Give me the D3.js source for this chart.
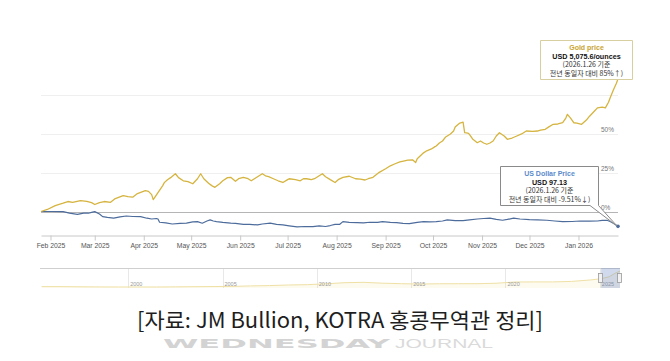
<!DOCTYPE html>
<html><head><meta charset="utf-8">
<script src="https://cdn.jsdelivr.net/npm/d3@7"></script>
<style>body{margin:0;background:#fff;} svg{display:block;}</style>
</head><body>
<svg id="c" width="670" height="361"></svg>
<script>
// ---------- DATA ----------
const goldDates = ["2025-01-26","2025-01-30","2025-02-04","2025-02-09","2025-02-12","2025-02-15","2025-02-20","2025-02-24","2025-02-27","2025-03-01","2025-03-04","2025-03-07","2025-03-11","2025-03-14","2025-03-19","2025-03-22","2025-03-25","2025-03-28","2025-04-02","2025-04-04","2025-04-06","2025-04-07","2025-04-10","2025-04-13","2025-04-14","2025-04-16","2025-04-18","2025-04-21","2025-04-23","2025-04-26","2025-04-29","2025-05-02","2025-05-05","2025-05-07","2025-05-09","2025-05-12","2025-05-14","2025-05-16","2025-05-19","2025-05-21","2025-05-24","2025-05-26","2025-05-29","2025-05-31","2025-06-03","2025-06-06","2025-06-08","2025-06-12","2025-06-15","2025-06-17","2025-06-19","2025-06-22","2025-06-25","2025-06-28","2025-07-01","2025-07-02","2025-07-06","2025-07-09","2025-07-11","2025-07-13","2025-07-16","2025-07-18","2025-07-20","2025-07-23","2025-07-25","2025-07-28","2025-07-31","2025-08-02","2025-08-05","2025-08-09","2025-08-13","2025-08-16","2025-08-19","2025-08-21","2025-08-24","2025-08-26","2025-08-28","2025-09-01","2025-09-04","2025-09-07","2025-09-10","2025-09-13","2025-09-15","2025-09-18","2025-09-20","2025-09-21","2025-09-23","2025-09-25","2025-09-27","2025-09-30","2025-10-02","2025-10-03","2025-10-05","2025-10-07","2025-10-09","2025-10-12","2025-10-14","2025-10-15","2025-10-17","2025-10-18","2025-10-20","2025-10-21","2025-10-23","2025-10-24","2025-10-26","2025-10-29","2025-10-31","2025-11-02","2025-11-04","2025-11-06","2025-11-08","2025-11-10","2025-11-12","2025-11-15","2025-11-17","2025-11-20","2025-11-23","2025-11-26","2025-11-29","2025-12-03","2025-12-06","2025-12-08","2025-12-11","2025-12-13","2025-12-16","2025-12-19","2025-12-22","2025-12-24","2025-12-25","2025-12-27","2025-12-29","2025-12-31","2026-01-03","2026-01-06","2026-01-08","2026-01-11","2026-01-13","2026-01-16","2026-01-18","2026-01-20","2026-01-21","2026-01-23","2026-01-25","2026-01-26"];
const goldPct = [0,1.3,3.8,5.3,6.4,5.9,7.0,6.5,5.7,4.5,5.7,6.4,5.9,8.3,10.2,9.6,9.2,11.5,13.4,12.9,10.8,7.6,12.1,16.6,18.5,20.4,21.7,24.2,21.7,19.7,19.1,17.8,21.0,24.2,21.0,18.1,16.6,15.5,17.8,19.7,21.7,21.9,19.4,21.0,21.9,21.0,19.7,22.3,24.2,22.9,22.3,21.0,19.7,18.6,20.4,21.0,20.4,19.7,21.0,21.0,20.4,21.0,22.3,24.2,22.3,20.4,18.6,20.4,21.9,22.6,21.0,20.7,20.2,21.0,21.9,23.6,25.1,27.4,29.3,30.6,31.8,32.5,32.9,33.1,31.4,33.8,35.7,37.6,38.9,40.1,41.4,42.0,43.9,45.2,47.8,49.7,51.6,54.1,55.9,56.7,57.3,50.5,50.3,49.5,46.5,44.1,45.2,43.9,43.1,43.9,45.2,48.4,50.5,48.4,46.3,47.1,48.4,49.7,51.6,51.3,51.6,52.2,52.7,54.1,55.9,56.1,56.9,59.9,62.3,59.9,56.9,56.7,55.9,58.6,61.1,64.3,66.4,66.9,66.4,70.0,72.8,77.7,82.2,85.0];

const usdDates = ["2025-01-26","2025-02-02","2025-02-09","2025-02-13","2025-02-18","2025-02-22","2025-02-25","2025-02-27","2025-03-01","2025-03-04","2025-03-06","2025-03-09","2025-03-13","2025-03-17","2025-03-21","2025-03-25","2025-03-30","2025-04-03","2025-04-06","2025-04-09","2025-04-10","2025-04-11","2025-04-15","2025-04-19","2025-04-24","2025-04-28","2025-05-02","2025-05-05","2025-05-08","2025-05-11","2025-05-13","2025-05-15","2025-05-17","2025-05-21","2025-05-26","2025-05-29","2025-06-03","2025-06-07","2025-06-12","2025-06-15","2025-06-20","2025-06-24","2025-06-28","2025-07-02","2025-07-07","2025-07-12","2025-07-17","2025-07-21","2025-07-25","2025-07-28","2025-07-31","2025-08-03","2025-08-05","2025-08-09","2025-08-14","2025-08-18","2025-08-22","2025-08-27","2025-08-30","2025-09-04","2025-09-08","2025-09-12","2025-09-16","2025-09-21","2025-09-25","2025-09-29","2025-10-03","2025-10-07","2025-10-10","2025-10-15","2025-10-20","2025-10-24","2025-10-29","2025-11-02","2025-11-06","2025-11-10","2025-11-14","2025-11-17","2025-11-21","2025-11-25","2025-12-01","2025-12-06","2025-12-12","2025-12-17","2025-12-22","2025-12-28","2026-01-02","2026-01-08","2026-01-13","2026-01-16","2026-01-19","2026-01-21","2026-01-23","2026-01-26"];
const usdPct = [0,0,-0.1,-1.0,-1.8,-1.0,-1.1,-0.6,-0.1,-1.6,-3.3,-3.8,-4.3,-3.5,-2.9,-3.2,-3.3,-4.3,-4.8,-4.5,-4.8,-6.9,-7.3,-8.0,-7.6,-7.5,-6.7,-6.5,-7.5,-6.1,-5.4,-6.1,-6.5,-7.0,-7.5,-7.6,-8.2,-8.3,-8.6,-8.0,-7.5,-8.3,-8.6,-9.2,-9.9,-9.6,-9.7,-9.2,-9.6,-9.0,-8.3,-8.2,-6.5,-7.0,-7.1,-7.3,-6.9,-7.0,-6.5,-7.0,-7.1,-7.6,-7.8,-7.0,-6.5,-6.7,-6.5,-6.1,-5.4,-5.9,-5.9,-5.4,-4.8,-4.5,-4.3,-5.1,-5.6,-5.1,-4.3,-4.8,-5.2,-5.4,-5.6,-6.1,-6.5,-6.4,-6.1,-6.2,-6.1,-5.7,-5.6,-6.4,-7.6,-9.51];

const monthTicks = ["2025-02-01","2025-03-01","2025-04-01","2025-05-01","2025-06-01","2025-07-01","2025-08-01","2025-09-01","2025-10-01","2025-11-01","2025-12-01","2026-01-01"];
const yTickLabels = [0, 25, 50];
const yGrid = [25, 50, 75];

const navDates = ["1995-06-01","1996-07-01","1997-07-01","1998-07-01","1999-07-01","2000-07-01","2001-07-01","2002-07-01","2003-07-01","2004-07-01","2005-07-01","2006-07-01","2007-07-01","2008-07-01","2009-07-01","2010-07-01","2011-07-01","2012-07-01","2013-07-01","2014-07-01","2015-07-01","2016-07-01","2017-07-01","2018-07-01","2019-07-01","2020-07-01","2021-07-01","2022-07-01","2023-07-01","2024-07-01","2025-01-26","2025-07-01","2025-10-20","2026-01-26"];
const navGold = [385,388,331,294,279,279,271,310,363,409,444,603,695,872,972,1224,1571,1669,1411,1266,1160,1250,1257,1268,1393,1770,1799,1800,1943,2386,2744,3350,4360,5075];
const navTickYears = ["2000","2005","2010","2015","2020","2025"];

const goldNote = ["Gold price", "USD 5,075.6/ounces", "(2026.1.26 기준", "전년 동일자 대비 85%↑)"];
const usdNote = ["US Dollar Price", "USD 97.13", "(2026.1.26 기준", "전년 동일자 대비 -9.51%↓)"];
const caption = "[자료: JM Bullion, KOTRA 홍콩무역관 정리]";
const watermark = ["WEDNESDAY", "JOURNAL"];

// ---------- DRAW ----------
const svg = d3.select("#c");
const parse = d3.timeParse("%Y-%m-%d");
const GOLD = "#d5b43f", BLUE = "#4d6c9c";
const FONT = "'Liberation Sans', Arial, sans-serif";
const KFONT = "'Noto Sans CJK KR', 'Noto Sans', sans-serif";

const x = d3.scaleTime().domain([parse("2025-01-26"), parse("2026-01-26")]).range([41, 618]);
const y = d3.scaleLinear().domain([0, 85]).range([211.5, 78.9]);
const cy = v => Math.round(y(v)) + 0.5;

// grid
svg.append("g").selectAll("line").data(yGrid).join("line")
  .attr("x1", 41).attr("x2", 618).attr("y1", cy).attr("y2", cy)
  .attr("stroke", "#efefef").attr("stroke-width", 1);
svg.append("line").attr("x1", 41).attr("x2", 618).attr("y1", cy(0)).attr("y2", cy(0))
  .attr("stroke", "#b5b5b5").attr("stroke-width", 1);

// y labels
svg.append("g").selectAll("text").data(yTickLabels).join("text")
  .attr("x", 601).attr("y", d => y(d) - 2)
  .attr("font-family", FONT).attr("font-size", 6.5).attr("fill", "#777")
  .text(d => d + "%");

// series
const gold = goldDates.map((d, i) => ({ d: parse(d), v: goldPct[i] }));
const usd = usdDates.map((d, i) => ({ d: parse(d), v: usdPct[i] }));
const line = d3.line().x(p => x(p.d)).y(p => y(p.v)).curve(d3.curveLinear);
svg.append("path").datum(usd).attr("d", line).attr("fill", "none")
  .attr("stroke", BLUE).attr("stroke-width", 1.2).attr("stroke-linejoin", "round");
svg.append("path").datum(gold).attr("d", line).attr("fill", "none")
  .attr("stroke", GOLD).attr("stroke-width", 1.3).attr("stroke-linejoin", "round");
const lastU = usd[usd.length - 1];
svg.append("circle").attr("cx", x(lastU.d)).attr("cy", y(lastU.v)).attr("r", 1.8).attr("fill", BLUE);

// x axis
const xAxis = d3.axisBottom(x).tickValues(monthTicks.map(parse))
  .tickFormat(d3.timeFormat("%b %Y")).tickSize(5).tickPadding(3).tickSizeOuter(0);
const gx = svg.append("g").attr("transform", "translate(0,235.5)").call(xAxis);
gx.select(".domain").attr("stroke", "#c8c8c8");
gx.selectAll(".tick line").attr("stroke", "#c8c8c8");
gx.selectAll(".tick text").attr("font-family", FONT).attr("font-size", 6.8).attr("fill", "#555");

// annotation boxes
function note(lines, box, pointer, titleColor, borderColor) {
  const g = svg.append("g");
  const [x0, y0, x1, y1] = box;
  let p = `M${x0},${y0}H${x1}V${y1}`;
  if (pointer) p += `L${pointer[0]},${pointer[1]}L${pointer[2]},${y1}`;
  p += `H${x0}Z`;
  g.append("path").attr("d", p).attr("fill", "#fff").attr("stroke", borderColor).attr("stroke-width", 1);
  const cx = (x0 + x1) / 2;
  const sizes = [7, 7.2, 7, 7];
  const base = [y0 + 9, y0 + 18, y0 + 26.5, y0 + 35];
  g.selectAll("text").data(lines).join("text")
    .attr("x", cx).attr("y", (d, i) => base[i]).attr("text-anchor", "middle")
    .attr("font-family", (d, i) => i < 2 ? FONT : KFONT)
    .attr("font-weight", (d, i) => i < 2 ? "bold" : "normal")
    .attr("font-size", (d, i) => sizes[i])
    .attr("fill", (d, i) => i === 0 ? titleColor : (i === 1 ? "#111" : "#333"))
    .text(d => d);
}
note(goldNote, [540.5, 40.5, 632.5, 79.5], null, "#c9a431", "#d8cfa0");
note(usdNote, [500.5, 166.5, 598.5, 205.5], [617, 226, 590], "#5a8bcc", "#8a8a8a");

// navigator
const nx = d3.scaleTime().domain([parse("1995-05-01"), parse("2026-01-26")]).range([40, 620]);
const ny = d3.scaleLinear().domain([d3.min(navGold), d3.max(navGold)]).range([287, 271]);
const nav = navDates.map((d, i) => ({ d: parse(d), v: navGold[i] }));
const ng = svg.append("g");
ng.selectAll("line.g").data(navTickYears).join("line")
  .attr("x1", d => Math.round(nx(parse(d + "-01-01"))) + 0.5).attr("x2", d => Math.round(nx(parse(d + "-01-01"))) + 0.5)
  .attr("y1", 268).attr("y2", 288).attr("stroke", "#e8e8e8");
ng.append("path").datum(nav)
  .attr("d", d3.area().x(p => nx(p.d)).y0(288).y1(p => ny(p.v)))
  .attr("fill", "rgba(240,215,120,0.12)");
ng.append("path").datum(nav)
  .attr("d", d3.line().x(p => nx(p.d)).y(p => ny(p.v)))
  .attr("fill", "none").attr("stroke", "#efe1a6").attr("stroke-width", 1);
ng.selectAll("text").data(navTickYears).join("text")
  .attr("x", d => nx(parse(d + "-01-01")) + 2).attr("y", 286)
  .attr("font-family", FONT).attr("font-size", 5.5).attr("fill", "#999").text(d => d);
ng.append("line").attr("x1", 40).attr("x2", 620).attr("y1", 268.5).attr("y2", 268.5).attr("stroke", "#cfcfcf");
const s0 = nx(parse("2025-01-26")), s1 = nx(parse("2026-01-26"));
ng.append("rect").attr("x", s0).attr("y", 268).attr("width", s1 - s0).attr("height", 20)
  .attr("fill", "rgba(102,133,194,0.3)");
ng.selectAll("rect.h").data([s0, s1]).join("rect").attr("class", "h")
  .attr("x", d => Math.round(d) - 2.5).attr("y", 273.5).attr("width", 4).attr("height", 9)
  .attr("fill", "#f2f2f2").attr("stroke", "#999").attr("stroke-width", 0.8);

// watermark (squat letters below the caption)
const wg = svg.append("g");
wg.append("text").attr("x", 163).attr("y", 348).attr("font-family", "'DejaVu Sans Condensed','DejaVu Sans',sans-serif")
  .attr("font-weight", "bold").attr("font-size", 13).attr("textLength", 227).attr("lengthAdjust", "spacingAndGlyphs")
  .attr("fill", "#d3d3d3").text(watermark[0]);
wg.append("text").attr("x", 395).attr("y", 348).attr("font-family", "'Liberation Sans',sans-serif")
  .attr("font-size", 13).attr("textLength", 98).attr("lengthAdjust", "spacingAndGlyphs")
  .attr("fill", "#dadada").text(watermark[1]);

// caption
svg.append("text").attr("x", 137).attr("y", 328).attr("font-family", KFONT)
  .attr("font-size", 21).attr("textLength", 406).attr("lengthAdjust", "spacingAndGlyphs")
  .attr("fill", "#1e1e1e").text(caption);
</script>
</body></html>
